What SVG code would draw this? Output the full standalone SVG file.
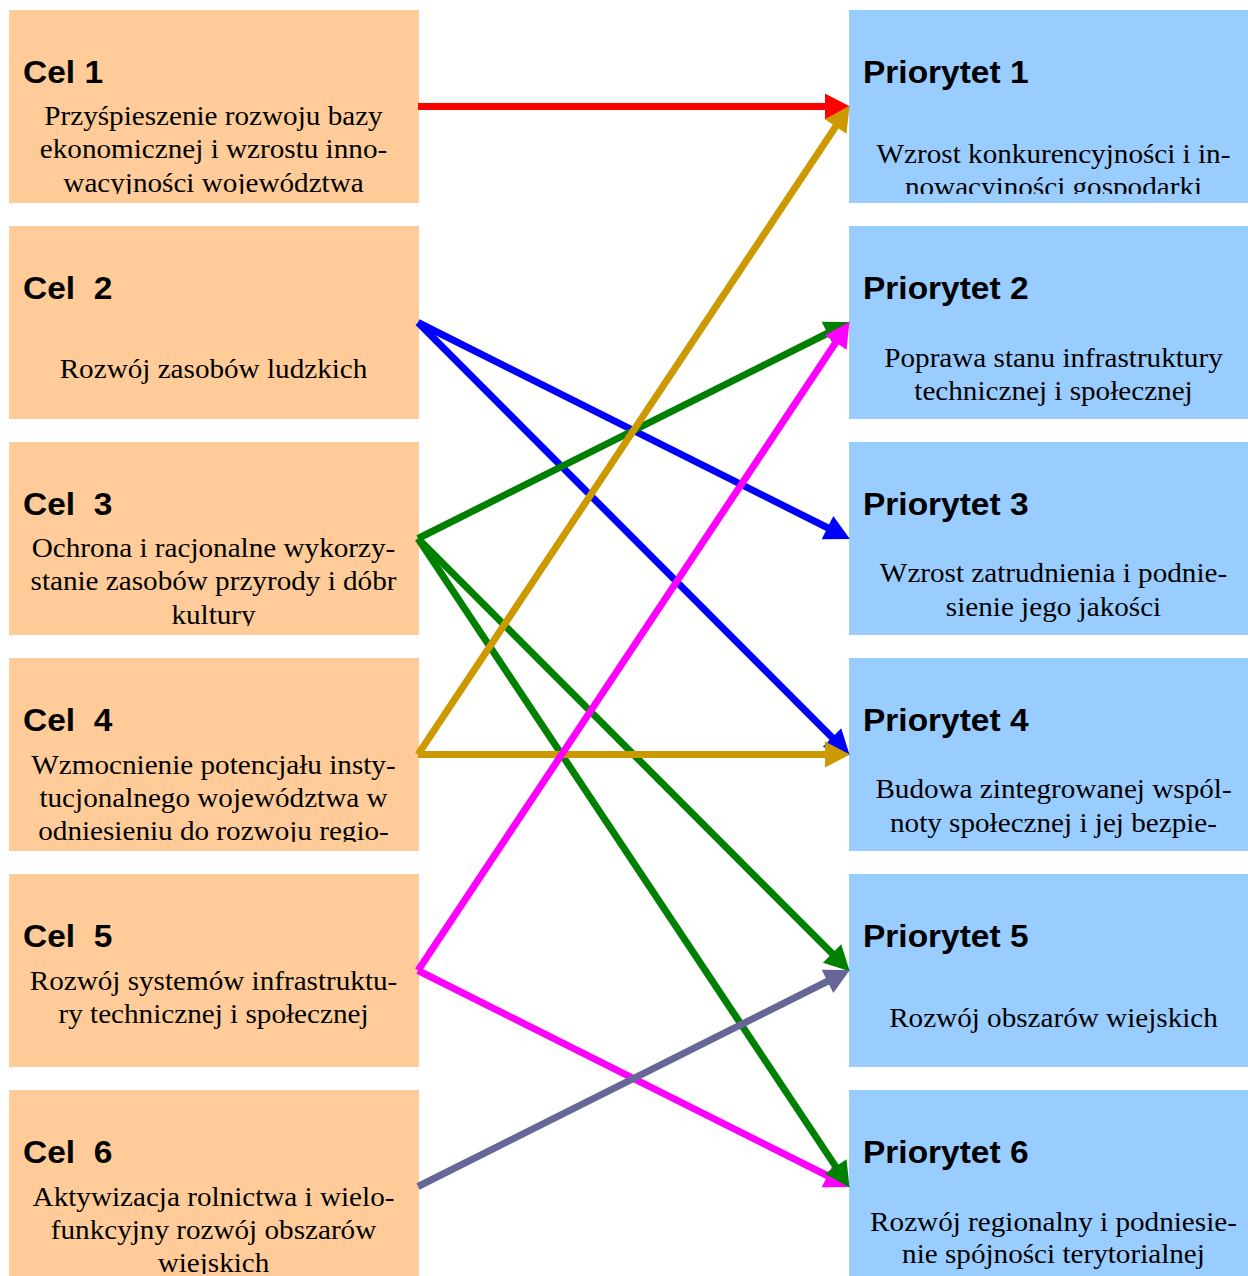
<svg xmlns="http://www.w3.org/2000/svg" width="1248" height="1276" viewBox="0 0 1248 1276">
<style>
.cel{fill:#ffcc99}
.pri{fill:#99ccff}
.t{font-family:"Liberation Sans",Arial,sans-serif;font-weight:bold;font-size:31px;fill:#000;white-space:pre}
.b{font-family:"Liberation Serif","Times New Roman",serif;font-size:27px;fill:#000;text-anchor:middle}
.c{fill:none;stroke-width:7}
</style>
<defs>
<marker id="aR" markerUnits="userSpaceOnUse" markerWidth="25" markerHeight="26" refX="4" refY="13" orient="auto" overflow="visible"><path d="M0,0 L25,13 L0,26 Z" fill="#ff0000"/></marker>
<marker id="aG" markerUnits="userSpaceOnUse" markerWidth="25" markerHeight="26" refX="4" refY="13" orient="auto" overflow="visible"><path d="M0,0 L25,13 L0,26 Z" fill="#cc9900"/></marker>
<marker id="aB" markerUnits="userSpaceOnUse" markerWidth="25" markerHeight="26" refX="4" refY="13" orient="auto" overflow="visible"><path d="M0,0 L25,13 L0,26 Z" fill="#0000ff"/></marker>
<marker id="aN" markerUnits="userSpaceOnUse" markerWidth="25" markerHeight="26" refX="4" refY="13" orient="auto" overflow="visible"><path d="M0,0 L25,13 L0,26 Z" fill="#008000"/></marker>
<marker id="aM" markerUnits="userSpaceOnUse" markerWidth="25" markerHeight="26" refX="4" refY="13" orient="auto" overflow="visible"><path d="M0,0 L25,13 L0,26 Z" fill="#ff00ff"/></marker>
<marker id="aS" markerUnits="userSpaceOnUse" markerWidth="25" markerHeight="26" refX="4" refY="13" orient="auto" overflow="visible"><path d="M0,0 L25,13 L0,26 Z" fill="#666699"/></marker>
<clipPath id="kL1"><rect x="9" y="10" width="410" height="184"/></clipPath>
<clipPath id="kL2"><rect x="9" y="226" width="410" height="184"/></clipPath>
<clipPath id="kL3"><rect x="9" y="442" width="410" height="184"/></clipPath>
<clipPath id="kL4"><rect x="9" y="658" width="410" height="184"/></clipPath>
<clipPath id="kL5"><rect x="9" y="874" width="410" height="184"/></clipPath>
<clipPath id="kL6"><rect x="9" y="1090" width="410" height="184"/></clipPath>
<clipPath id="kR1"><rect x="849" y="10" width="410" height="184"/></clipPath>
<clipPath id="kR2"><rect x="849" y="226" width="410" height="184"/></clipPath>
<clipPath id="kR3"><rect x="849" y="442" width="410" height="184"/></clipPath>
<clipPath id="kR4"><rect x="849" y="658" width="410" height="184"/></clipPath>
<clipPath id="kR5"><rect x="849" y="874" width="410" height="184"/></clipPath>
<clipPath id="kR6"><rect x="849" y="1090" width="410" height="184"/></clipPath>
</defs>
<rect x="0" y="0" width="1248" height="1276" fill="#ffffff"/>

<g id="cel1">
<rect class="cel" x="9" y="10" width="410" height="193"/>
<g clip-path="url(#kL1)">
<text class="t" x="0" y="83.5" transform="translate(23 0) scale(1.08 1)">Cel 1</text>
<text class="b" x="0" y="125" transform="translate(213.5 0) scale(1.08 1)">Przyśpieszenie rozwoju bazy</text>
<text class="b" x="0" y="158.5" transform="translate(213.5 0) scale(1.08 1)">ekonomicznej i wzrostu inno-</text>
<text class="b" x="0" y="192.5" transform="translate(213.5 0) scale(1.08 1)">wacyjności województwa</text>
</g>
</g>

<g id="cel2">
<rect class="cel" x="9" y="226" width="410" height="193"/>
<g clip-path="url(#kL2)">
<text class="t" x="0" y="299.5" transform="translate(23 0) scale(1.08 1)" xml:space="preserve">Cel  2</text>
<text class="b" x="0" y="378" transform="translate(213.5 0) scale(1.08 1)">Rozwój zasobów ludzkich</text>
</g>
</g>

<g id="cel3">
<rect class="cel" x="9" y="442" width="410" height="193"/>
<g clip-path="url(#kL3)">
<text class="t" x="0" y="515.5" transform="translate(23 0) scale(1.08 1)" xml:space="preserve">Cel  3</text>
<text class="b" x="0" y="557" transform="translate(213.5 0) scale(1.08 1)">Ochrona i racjonalne wykorzy-</text>
<text class="b" x="0" y="590.5" transform="translate(213.5 0) scale(1.08 1)">stanie zasobów przyrody i dóbr</text>
<text class="b" x="0" y="624.5" transform="translate(213.5 0) scale(1.08 1)">kultury</text>
</g>
</g>

<g id="cel4">
<rect class="cel" x="9" y="658" width="410" height="193"/>
<g clip-path="url(#kL4)">
<text class="t" x="0" y="731.5" transform="translate(23 0) scale(1.08 1)" xml:space="preserve">Cel  4</text>
<text class="b" x="0" y="774" transform="translate(213.5 0) scale(1.08 1)">Wzmocnienie potencjału insty-</text>
<text class="b" x="0" y="807" transform="translate(213.5 0) scale(1.08 1)">tucjonalnego województwa w</text>
<text class="b" x="0" y="840.5" transform="translate(213.5 0) scale(1.08 1)">odniesieniu do rozwoju regio-</text>
</g>
</g>

<g id="cel5">
<rect class="cel" x="9" y="874" width="410" height="193"/>
<g clip-path="url(#kL5)">
<text class="t" x="0" y="947.5" transform="translate(23 0) scale(1.08 1)" xml:space="preserve">Cel  5</text>
<text class="b" x="0" y="990" transform="translate(213.5 0) scale(1.08 1)">Rozwój systemów infrastruktu-</text>
<text class="b" x="0" y="1023" transform="translate(213.5 0) scale(1.08 1)">ry technicznej i społecznej</text>
</g>
</g>

<g id="cel6">
<rect class="cel" x="9" y="1090" width="410" height="193"/>
<g clip-path="url(#kL6)">
<text class="t" x="0" y="1163.5" transform="translate(23 0) scale(1.08 1)" xml:space="preserve">Cel  6</text>
<text class="b" x="0" y="1206" transform="translate(213.5 0) scale(1.08 1)">Aktywizacja rolnictwa i wielo-</text>
<text class="b" x="0" y="1239" transform="translate(213.5 0) scale(1.08 1)">funkcyjny rozwój obszarów</text>
<text class="b" x="0" y="1272.5" transform="translate(213.5 0) scale(1.08 1)">wiejskich</text>
</g>
</g>

<g id="priorytet1">
<rect class="pri" x="849" y="10" width="410" height="193"/>
<g clip-path="url(#kR1)">
<text class="t" x="0" y="83.5" transform="translate(863 0) scale(1.08 1)">Priorytet 1</text>
<text class="b" x="0" y="163" transform="translate(1053.5 0) scale(1.08 1)">Wzrost konkurencyjności i in-</text>
<text class="b" x="0" y="196" transform="translate(1053.5 0) scale(1.08 1)">nowacyjności gospodarki</text>
</g>
</g>

<g id="priorytet2">
<rect class="pri" x="849" y="226" width="410" height="193"/>
<g clip-path="url(#kR2)">
<text class="t" x="0" y="299.5" transform="translate(863 0) scale(1.08 1)">Priorytet 2</text>
<text class="b" x="0" y="367" transform="translate(1053.5 0) scale(1.08 1)">Poprawa stanu infrastruktury</text>
<text class="b" x="0" y="400" transform="translate(1053.5 0) scale(1.08 1)">technicznej i społecznej</text>
</g>
</g>

<g id="priorytet3">
<rect class="pri" x="849" y="442" width="410" height="193"/>
<g clip-path="url(#kR3)">
<text class="t" x="0" y="515.5" transform="translate(863 0) scale(1.08 1)">Priorytet 3</text>
<text class="b" x="0" y="582" transform="translate(1053.5 0) scale(1.08 1)">Wzrost zatrudnienia i podnie-</text>
<text class="b" x="0" y="616" transform="translate(1053.5 0) scale(1.08 1)">sienie jego jakości</text>
</g>
</g>

<g id="priorytet4">
<rect class="pri" x="849" y="658" width="410" height="193"/>
<g clip-path="url(#kR4)">
<text class="t" x="0" y="731.5" transform="translate(863 0) scale(1.08 1)">Priorytet 4</text>
<text class="b" x="0" y="798" transform="translate(1053.5 0) scale(1.08 1)">Budowa zintegrowanej wspól-</text>
<text class="b" x="0" y="832.5" transform="translate(1053.5 0) scale(1.08 1)">noty społecznej i jej bezpie-</text>
</g>
</g>

<g id="priorytet5">
<rect class="pri" x="849" y="874" width="410" height="193"/>
<g clip-path="url(#kR5)">
<text class="t" x="0" y="947.5" transform="translate(863 0) scale(1.08 1)">Priorytet 5</text>
<text class="b" x="0" y="1027" transform="translate(1053.5 0) scale(1.08 1)">Rozwój obszarów wiejskich</text>
</g>
</g>

<g id="priorytet6">
<rect class="pri" x="849" y="1090" width="410" height="193"/>
<g clip-path="url(#kR6)">
<text class="t" x="0" y="1163.5" transform="translate(863 0) scale(1.08 1)">Priorytet 6</text>
<text class="b" x="0" y="1231" transform="translate(1053.5 0) scale(1.08 1)">Rozwój regionalny i podniesie-</text>
<text class="b" x="0" y="1263" transform="translate(1053.5 0) scale(1.08 1)">nie spójności terytorialnej</text>
</g>
</g>

<g id="connectors">
<line class="c" stroke="#ff0000" x1="418" y1="106.5" x2="829" y2="106.5" marker-end="url(#aR)"/>
<line class="c" stroke="#0000ff" x1="418" y1="322.5" x2="831.1" y2="529.5" marker-end="url(#aB)"/>
<line class="c" stroke="#0000ff" x1="418" y1="322.5" x2="834.9" y2="740.3" marker-end="url(#aB)"/>
<line class="c" stroke="#ff00ff" x1="418" y1="970.5" x2="831.1" y2="1177.5" marker-end="url(#aM)"/>
<line class="c" stroke="#008000" x1="418" y1="538.5" x2="831.1" y2="331.5" marker-end="url(#aN)"/>
<line class="c" stroke="#008000" x1="418" y1="538.5" x2="834.9" y2="956.3" marker-end="url(#aN)"/>
<line class="c" stroke="#008000" x1="418" y1="538.5" x2="837.9" y2="1169.9" marker-end="url(#aN)"/>
<line class="c" stroke="#cc9900" x1="418" y1="754.5" x2="837.9" y2="123.2" marker-end="url(#aG)"/>
<line class="c" stroke="#cc9900" x1="418" y1="754.5" x2="829" y2="754.5" marker-end="url(#aG)"/>
<line class="c" stroke="#ff00ff" x1="418" y1="970.5" x2="837.9" y2="339.2" marker-end="url(#aM)"/>
<line class="c" stroke="#666699" x1="418" y1="1186.5" x2="831.1" y2="979.5" marker-end="url(#aS)"/>
</g>
</svg>
